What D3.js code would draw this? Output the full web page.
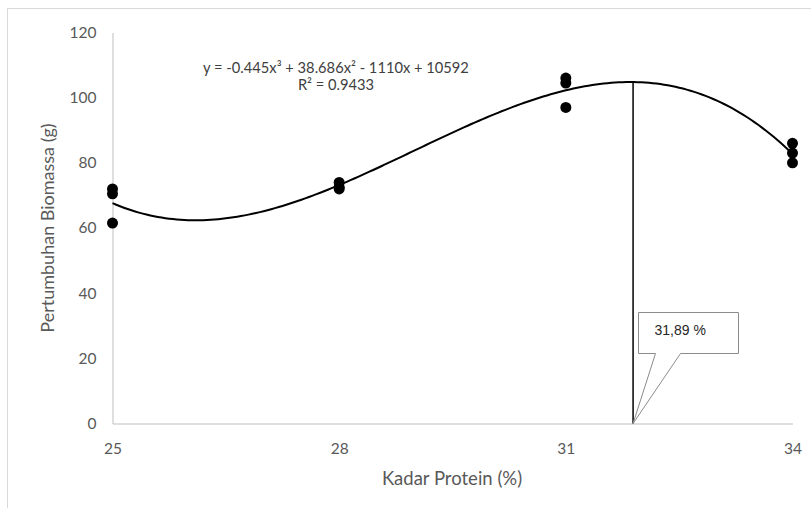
<!DOCTYPE html>
<html>
<head>
<meta charset="utf-8">
<script src="https://cdn.jsdelivr.net/npm/d3@7"></script>
<style>
  html, body { margin: 0; padding: 0; background: #fff; }
  svg { display: block; }
</style>
</head>
<body>
<svg id="chart" width="811" height="508"></svg>
<script>
// Protein level (%) and measured biomass growth (g), three replicates per level
const proteinLevels = [25, 28, 31, 34];
const biomassReps = [
  [72, 70.5, 61.5],
  [74, 72.5, 72],
  [106, 104.5, 97],
  [86, 83, 80]
];
// Cubic trendline coefficients: a*x^3 + b*x^2 + c*x + d
const trendCoef = [-0.445, 38.686, -1110, 10592];
const optimumX = 31.89;
const xTicks = [25, 28, 31, 34];
const yTicks = [0, 20, 40, 60, 80, 100, 120];
const equationLabel = "y = -0.445x³ + 38.686x² - 1110x + 10592";
const r2Label = "R² = 0.9433";
const optimumLabel = "31,89 %";

const font = "Lato, 'Open Sans', sans-serif";
const svg = d3.select("#chart");

// outer chart frame
svg.append("rect")
  .attr("x", 7.5).attr("y", 8.5).attr("width", 830).attr("height", 520)
  .attr("fill", "none").attr("stroke", "#d9d9d9").attr("stroke-width", 1);

const x = d3.scaleLinear().domain([25, 34]).range([112.5, 792.5]);
const y = d3.scaleLinear().domain([0, 120]).range([423.5, 32.5]);

const poly = v => trendCoef[0] * v ** 3 + trendCoef[1] * v ** 2 + trendCoef[2] * v + trendCoef[3];

// y axis
const yAxis = svg.append("g").attr("transform", `translate(${x(25)},0)`)
  .call(d3.axisLeft(y).tickValues(yTicks).tickSize(0).tickPadding(16));
yAxis.select(".domain").attr("stroke", "#bfbfbf");
yAxis.selectAll("text").attr("font-family", font).attr("font-size", 15.5).attr("fill", "#595959");

// x axis
const xAxis = svg.append("g").attr("transform", `translate(0,${y(0)})`)
  .call(d3.axisBottom(x).tickValues(xTicks).tickSize(0).tickPadding(19));
xAxis.select(".domain").attr("stroke", "#bfbfbf");
xAxis.selectAll("text").attr("font-family", font).attr("font-size", 15.5).attr("fill", "#595959");

// axis titles
svg.append("text")
  .attr("x", 452).attr("y", 485).attr("text-anchor", "middle")
  .attr("font-family", font).attr("font-size", 18.5).attr("fill", "#595959")
  .text("Kadar Protein (%)");
svg.append("text")
  .attr("transform", "translate(54,228) rotate(-90)").attr("text-anchor", "middle")
  .attr("font-family", font).attr("font-size", 18).attr("fill", "#595959")
  .text("Pertumbuhan Biomassa (g)");

// trendline
const curveX = d3.range(25, 34.001, 0.05);
svg.append("path")
  .datum(curveX)
  .attr("fill", "none").attr("stroke", "#000").attr("stroke-width", 2)
  .attr("d", d3.line().x(d => x(d)).y(d => y(poly(d))));

// optimum line
svg.append("line")
  .attr("x1", x(optimumX)).attr("x2", x(optimumX))
  .attr("y1", y(0)).attr("y2", y(poly(optimumX)))
  .attr("stroke", "#000").attr("stroke-width", 1.5);

// data points
const pts = [];
proteinLevels.forEach((p, i) => biomassReps[i].forEach(v => pts.push([p, v])));
svg.append("g").selectAll("circle").data(pts).join("circle")
  .attr("cx", d => x(d[0])).attr("cy", d => y(d[1])).attr("r", 5.5)
  .attr("fill", "#000");

// equation annotation
svg.append("text")
  .attr("x", 336).attr("y", 73).attr("text-anchor", "middle")
  .attr("font-family", font).attr("font-size", 14.7).attr("fill", "#404040")
  .text(equationLabel);
svg.append("text")
  .attr("x", 336).attr("y", 90).attr("text-anchor", "middle")
  .attr("font-family", font).attr("font-size", 14.7).attr("fill", "#404040")
  .text(r2Label);

// callout box pointing to the optimum
const bx = 638.5, by = 312.5, bw = 100, bh = 41;
const tipX = x(optimumX), tipY = y(0);
svg.append("path")
  .attr("d", `M${bx},${by} H${bx + bw} V${by + bh} H${bx + 42} L${tipX},${tipY} L${bx + 17},${by + bh} H${bx} Z`)
  .attr("fill", "#fff").attr("stroke", "#8c8c8c").attr("stroke-width", 1);
svg.append("text")
  .attr("x", bx + 16).attr("y", by + 22)
  .attr("font-family", "'Liberation Sans', Arial, sans-serif").attr("font-size", 14).attr("fill", "#262626")
  .text(optimumLabel);
</script>
</body>
</html>
